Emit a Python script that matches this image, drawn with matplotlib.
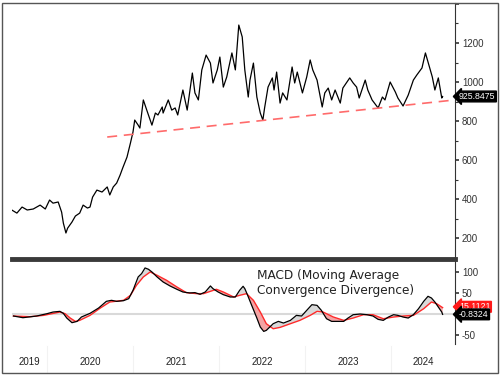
import numpy as np
import matplotlib
matplotlib.use("Agg")
import matplotlib.pyplot as plt
from matplotlib.patches import Polygon, Rectangle
from matplotlib.transforms import blended_transform_factory

# price series (top panel), dates as decimal years
price_t = [2019.59, 2019.65, 2019.71, 2019.77, 2019.84, 2019.92, 2019.98, 2020.03, 2020.07, 2020.13,
           2020.17, 2020.19, 2020.22, 2020.24, 2020.29, 2020.33, 2020.38, 2020.42, 2020.47, 2020.50,
           2020.53, 2020.58, 2020.64, 2020.70, 2020.73, 2020.77, 2020.81, 2020.85, 2020.88, 2020.93,
           2020.97, 2021.00, 2021.02, 2021.06, 2021.08, 2021.12, 2021.16, 2021.22, 2021.26, 2021.29,
           2021.34, 2021.35, 2021.41, 2021.45, 2021.49, 2021.52, 2021.58, 2021.63, 2021.69, 2021.72,
           2021.76, 2021.80, 2021.85, 2021.90, 2021.93, 2021.98, 2022.01, 2022.05, 2022.09, 2022.15,
           2022.19, 2022.23, 2022.27, 2022.30, 2022.34, 2022.36, 2022.40, 2022.44, 2022.48, 2022.51,
           2022.53, 2022.57, 2022.62, 2022.64, 2022.67, 2022.71, 2022.74, 2022.79, 2022.85, 2022.88,
           2022.91, 2022.97, 2023.02, 2023.06, 2023.09, 2023.14, 2023.20, 2023.23, 2023.27, 2023.31,
           2023.35, 2023.41, 2023.44, 2023.52, 2023.56, 2023.60, 2023.63, 2023.70, 2023.73, 2023.78,
           2023.85, 2023.90, 2023.93, 2023.99, 2024.05, 2024.08, 2024.14, 2024.20, 2024.26, 2024.30,
           2024.36, 2024.40, 2024.43, 2024.48, 2024.51, 2024.55, 2024.59, 2024.60]
price = [344, 328, 359, 344, 349, 369, 349, 395, 379, 385,
         333, 277, 226, 251, 282, 313, 328, 369, 354, 359,
         410, 446, 436, 462, 421, 462, 482, 523, 559, 615,
         687, 744, 805, 779, 764, 908, 856, 779, 841, 831,
         872, 841, 908, 856, 867, 831, 959, 856, 1046, 944,
         908, 1062, 1138, 1097, 995, 1062, 1128, 974, 1026, 1149,
         1062, 1292, 1231, 1062, 923, 1010, 1097, 923, 841, 805,
         867, 974, 1021, 959, 1051, 892, 944, 908, 1077, 995,
         1051, 944, 1026, 1113, 1062, 1010, 872, 944, 969, 908,
         959, 892, 969, 1021, 995, 974, 918, 1010, 959, 908,
         867, 923, 908, 1000, 949, 918, 877, 933, 1010, 1036,
         1072, 1149, 1103, 1026, 959, 1021, 918, 925.8475]

# dashed support line
trend_t = [2020.70, 2024.74]
trend_v = [718, 908]

# MACD panel
macd_t = [2019.61, 2019.72, 2019.88, 2020.00, 2020.07, 2020.15, 2020.19, 2020.23, 2020.29, 2020.35,
          2020.40, 2020.50, 2020.60, 2020.69, 2020.75, 2020.81, 2020.89, 2020.95, 2021.00, 2021.06,
          2021.10, 2021.14, 2021.18, 2021.22, 2021.28, 2021.35, 2021.43, 2021.51, 2021.58, 2021.66,
          2021.72, 2021.78, 2021.84, 2021.90, 2021.93, 2021.99, 2022.05, 2022.13, 2022.19, 2022.24,
          2022.28, 2022.30, 2022.33, 2022.38, 2022.44, 2022.48, 2022.52, 2022.55, 2022.59, 2022.63,
          2022.69, 2022.75, 2022.83, 2022.90, 2022.96, 2023.02, 2023.08, 2023.14, 2023.19, 2023.25,
          2023.31, 2023.39, 2023.45, 2023.50, 2023.56, 2023.64, 2023.72, 2023.79, 2023.85, 2023.91,
          2023.97, 2024.03, 2024.08, 2024.14, 2024.20, 2024.26, 2024.32, 2024.38, 2024.43, 2024.47,
          2024.51, 2024.55, 2024.59, 2024.60]
macd = [-4.7, -8.7, -4.7, 0.8, 4.7, 6.3, 1.6, -9.5, -20.5, -17.4,
        -7.1, 1.6, 14.2, 30.0, 32.4, 30.0, 31.6, 36.3, 56.1, 87.7,
        95.6, 109.0, 105.8, 99.5, 87.7, 75.8, 66.4, 58.5, 52.1, 49.8,
        50.6, 46.6, 52.1, 66.4, 60.0, 52.1, 45.8, 40.3, 40.3, 56.1,
        65.6, 60.0, 45.8, 20.5, -9.5, -30.8, -41.1, -38.7, -30.8, -22.9,
        -17.4, -21.3, -15.0, -3.2, -4.7, 8.7, 22.1, 20.5, 8.7, -11.1,
        -17.4, -17.4, -17.4, -9.5, -1.6, 0.0, -1.6, -4.7, -12.6, -15.0,
        -7.1, -1.6, -3.2, -7.1, -9.5, -1.6, 12.6, 30.0, 41.9, 37.9,
        28.4, 16.6, 4.7, -0.8324]
signal_t = [2019.61, 2019.80, 2019.96, 2020.15, 2020.21, 2020.27, 2020.33, 2020.38, 2020.50, 2020.62,
            2020.73, 2020.89, 2020.97, 2021.04, 2021.12, 2021.20, 2021.28, 2021.39, 2021.51, 2021.62,
            2021.74, 2021.82, 2021.90, 2021.97, 2022.05, 2022.17, 2022.24, 2022.32, 2022.40, 2022.48,
            2022.55, 2022.63, 2022.71, 2022.83, 2022.94, 2023.06, 2023.14, 2023.21, 2023.33, 2023.45,
            2023.56, 2023.68, 2023.79, 2023.91, 2024.03, 2024.14, 2024.26, 2024.38, 2024.47, 2024.53,
            2024.60]
signal = [-4.7, -6.3, -3.2, 4.7, 0.8, -9.5, -17.4, -15.0, -3.2, 14.2,
          28.4, 32.4, 44.2, 67.9, 87.7, 99.5, 91.6, 79.8, 64.0, 50.6,
          48.2, 48.2, 53.7, 58.5, 52.1, 40.3, 44.2, 48.2, 32.4, 4.7,
          -22.9, -34.8, -31.6, -22.9, -15.0, -3.2, 6.3, 4.7, -7.1, -15.0,
          -9.5, -1.6, -1.6, -11.1, -7.1, -4.7, -3.2, 12.6, 28.4, 24.5,
          15.1121]

years = [2019, 2020, 2021, 2022, 2023, 2024]
xmin, xmax = 2019.593, 2024.744

dark = "#333333"
lab_font = "Liberation Sans"
fig = plt.figure(figsize=(5, 3.76), dpi=100)
ax1 = fig.add_axes([0.024, 0.3165, 0.886, 0.6755])
ax2 = fig.add_axes([0.024, 0.085, 0.886, 0.226])

# ---- top panel
ax1.plot(price_t, price, color="black", lw=0.9)
ax1.plot(trend_t, trend_v, color="#ff6b6b", lw=1.2, dashes=(6, 4))
ax1.set_xlim(xmin, xmax)
ax1.set_ylim(103, 1405)
ax1.yaxis.tick_right()
ax1.set_yticks([200, 400, 600, 800, 1000, 1200, 1400])
ax1.set_yticklabels(["200", "400", "600", "800", "1000", "1200", ""], family=lab_font)
ax1.set_yticks([300, 500, 700, 900, 1100, 1300], minor=True)
ax1.tick_params(axis="y", which="major", length=3, width=1.2, pad=2, labelsize=7, colors=dark)
ax1.tick_params(axis="y", which="minor", length=2, width=0.8, colors=dark)
ax1.set_xticks([])
for s in ["left", "top", "bottom"]:
    ax1.spines[s].set_visible(False)
ax1.spines["right"].set_color(dark)

# last-value tags
box = dict(boxstyle="larrow,pad=0.1", fc="black", ec="black")
tr1 = blended_transform_factory(ax1.transAxes, ax1.transData)
ax1.text(1.009, price[-1], f"{price[-1]:.4f}", transform=tr1, ha="left", va="center",
         color="white", fontsize=6.3, family=lab_font, zorder=10, bbox=box, clip_on=False)

# ---- MACD panel
ax2.axhline(0, color="#d9d9d9", lw=1.5, zorder=0)
gray = ax2.fill_between(macd_t, macd, -500, color="#d9d9d9", lw=0, zorder=1)
gray.set_clip_path(Polygon(np.column_stack([signal_t + [signal_t[-1], signal_t[0]],
                                            signal + [500, 500]]), transform=ax2.transData))
red = ax2.fill_between(signal_t, signal, -500, color="#f4a3a3", lw=0, zorder=1)
red.set_clip_path(Polygon(np.column_stack([macd_t + [macd_t[-1], macd_t[0]],
                                           macd + [500, 500]]), transform=ax2.transData))
ax2.plot(signal_t, signal, color="#ff2a2a", lw=1.0, zorder=2)
ax2.plot(macd_t, macd, color="black", lw=0.9, zorder=3)
ax2.set_xlim(xmin, xmax)
ax2.set_ylim(-71, 130)
ax2.yaxis.tick_right()
ax2.set_yticks([-50, 0, 50, 100])
ax2.set_yticklabels(["-50", "", "50", "100"], family=lab_font)
ax2.tick_params(axis="y", which="major", length=3, width=1.2, pad=2, labelsize=7, colors=dark)
for s in ["left", "bottom"]:
    ax2.spines[s].set_visible(False)
ax2.spines["right"].set_color(dark)
ax2.spines["top"].set_color("#3a3a3a")
ax2.spines["top"].set_linewidth(3.5)

# year labels centred in the visible part of each year
centers = [(max(y, xmin) + min(y + 1, xmax)) / 2 for y in years]
ax2.set_xticks(centers)
ax2.set_xticklabels([str(y) for y in years], family=lab_font)
ax2.tick_params(axis="x", length=0, pad=9, labelsize=7, colors="#222222")
trx = blended_transform_factory(ax2.transData, ax2.transAxes)
for y in years[1:]:
    ax2.plot([y, y], [-0.02, -0.33], transform=trx, color="#f2f2f2", lw=0.8, clip_on=False)

ax2.text(0.553, 0.72, "MACD (Moving Average\nConvergence Divergence)", transform=ax2.transAxes,
         fontsize=8.7, color="#222222", va="center", ha="left", linespacing=1.2)

tr2 = blended_transform_factory(ax2.transAxes, ax2.transData)
ax2.text(1.009, signal[-1] + 2, f"{signal[-1]:.4f}", transform=tr2, ha="left", va="center",
         color="white", fontsize=6.3, family=lab_font, zorder=9,
         bbox=dict(box, fc="#ff1a1a", ec="#ff1a1a"), clip_on=False)
ax2.text(1.009, macd[-1], f"{macd[-1]:.4f}", transform=tr2, ha="left", va="center",
         color="white", fontsize=6.3, family=lab_font, zorder=10, bbox=box, clip_on=False)

# outer frame
fig.patches.append(Rectangle((0.004, 0.008), 0.992, 0.984, transform=fig.transFigure,
                             fill=False, ec="#555555", lw=1))

fig.savefig("out.png", dpi=100)
